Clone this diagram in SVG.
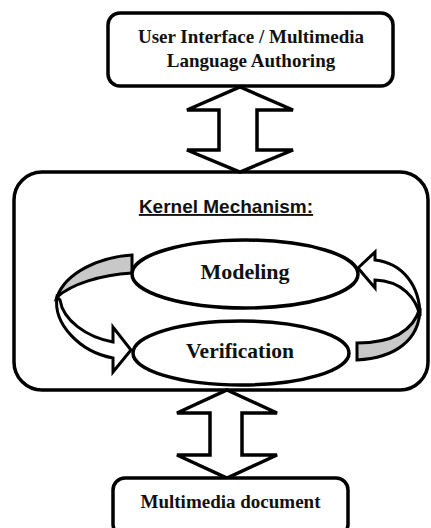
<svg xmlns="http://www.w3.org/2000/svg" width="431" height="528" viewBox="0 0 431 528">
<style>
.box{fill:#fff;stroke:#000;stroke-width:3.5}
.conn{fill:#fff;stroke:#000;stroke-width:3.5;stroke-linejoin:miter}
.rib{fill:#fff;stroke:#000;stroke-width:3;stroke-linejoin:miter}
.gray{fill:#c8c8c8;stroke:#000;stroke-width:3}
.ell{fill:#fff;stroke:#000;stroke-width:3.5}
.t{font-family:"Liberation Serif","Times New Roman",serif;font-weight:bold;fill:#111;text-anchor:middle}
.k{font-family:"Liberation Sans",Arial,sans-serif;font-weight:bold;font-size:19px;fill:#111;text-anchor:middle;text-decoration:underline}
</style>
<rect width="431" height="528" fill="#fff"/>
<g id="kernel">
<rect class="box" x="14" y="172" width="414" height="218" rx="28"/>
<text class="k" x="226" y="213">Kernel Mechanism:</text>
</g>
<g id="connectors">
<path class="conn" d="M240 87 L293 110 L257 110 L257 150 L293 150 L240 172 L187 150 L219 150 L219 110 L187 110 Z"/>
<path class="conn" d="M227 390 L277 413 L242 413 L242 455 L277 455 L227 478 L177 455 L210 455 L210 413 L177 413 Z"/>
<path class="gray" d="M132 255 C100 257 66 272 57 297 C72 284 100 275 132 273 Z"/>
<path class="rib" d="M57 297 C53 324 80 352 113 358 L113 372 L131 350 L113 327 L113 342 C86 337 63 320 60 300 Z"/>
<path class="rib" d="M358 268 L375 252 L375 260 C402 263 420 285 420 316 C416 298 402 281 375 280 L375 288 Z"/>
<path class="gray" d="M420 308 C420 340 395 358 357 360 L357 343 C385 343 412 335 420 308 Z"/>
</g>
<g id="top">
<rect class="box" x="108" y="13" width="285" height="73" rx="12"/>
<text class="t" x="251" y="43" font-size="19">User Interface / Multimedia</text>
<text class="t" x="251" y="67" font-size="19">Language Authoring</text>
</g>
<g id="modeling">
<ellipse class="ell" cx="245" cy="274" rx="113" ry="34"/>
<text class="t" x="245" y="279" font-size="22">Modeling</text>
</g>
<g id="verification">
<ellipse class="ell" cx="241" cy="353" rx="108" ry="32"/>
<text class="t" x="240" y="358" font-size="21.5">Verification</text>
</g>
<g id="document">
<rect class="box" x="113" y="478" width="235" height="58" rx="12"/>
<text class="t" x="230.5" y="508" font-size="19">Multimedia document</text>
</g>
</svg>
